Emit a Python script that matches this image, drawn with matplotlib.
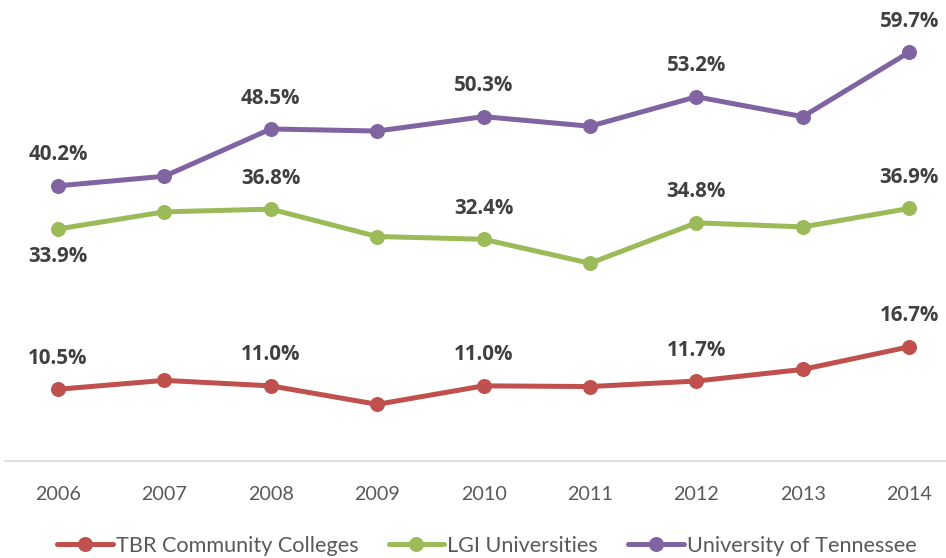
import matplotlib
matplotlib.use("Agg")
import matplotlib.pyplot as plt

# Data: share of students (%) by year and institution group
years = ["2006", "2007", "2008", "2009", "2010", "2011", "2012", "2013", "2014"]
tbr_cc = [10.5, 11.8, 11.0, 8.3, 11.0, 10.9, 11.7, 13.4, 16.7]
lgi_univ = [33.9, 36.4, 36.8, 32.8, 32.4, 28.9, 34.8, 34.2, 36.9]
ut_system = [40.2, 41.6, 48.5, 48.2, 50.3, 48.9, 53.2, 50.3, 59.7]
series_names = ["TBR Community Colleges", "LGI Universities", "University of Tennessee"]

colors = ["#C0504D", "#9BBB59", "#8064A2"]
label_color = "#404040"
tick_color = "#595959"

W, H = 946, 558
fig = plt.figure(figsize=(W / 100, H / 100), dpi=100)

# Plot area: categories centred in equal slots, zero line near the bottom
slot = 106.4
left_px = 58 - slot / 2
zero_px = 461.2
ax = fig.add_axes([left_px / W, (H - zero_px) / H, 9 * slot / W, zero_px / H])
ax.set_xlim(-0.5, 8.5)
ax.set_ylim(0, zero_px / 6.85)

x = list(range(len(years)))
all_series = [tbr_cc, lgi_univ, ut_system]
for vals, name, c in zip(all_series, series_names, colors):
    ax.plot(x, vals, color=c, lw=3.6, marker="o", markersize=10.8,
            markeredgewidth=0, label=name, solid_capstyle="round",
            solid_joinstyle="round")

# Value labels on every other year
label_font = dict(family="Open Sans", weight="bold", size=14.8, color=label_color)
for s_idx, vals in enumerate(all_series):
    for i in range(0, len(vals), 2):
        below = (s_idx == 1 and i == 0)
        dy = -19.8 if below else 22.3
        ax.annotate(f"{vals[i]:.1f}%", (x[i], vals[i]), xytext=(0, dy),
                    textcoords="offset points", ha="center", va="center",
                    **label_font)

for side in ["left", "right", "top"]:
    ax.spines[side].set_visible(False)
ax.spines["bottom"].set_color("#D9D9D9")
ax.spines["bottom"].set_linewidth(1.2)
ax.set_yticks([])
ax.set_xticks(x)
ax.set_xticklabels(years, family="Lato", fontsize=14.2, color=tick_color)
ax.tick_params(axis="x", length=0, pad=17.5)

leg = fig.legend(loc="center", bbox_to_anchor=(487 / W, 12 / H), ncol=3,
                 frameon=False, handlelength=2.55, handletextpad=0.15,
                 columnspacing=1.4, prop=dict(family="Lato", size=15.6))
for t in leg.get_texts():
    t.set_color(tick_color)

fig.savefig("out.png", dpi=100)
